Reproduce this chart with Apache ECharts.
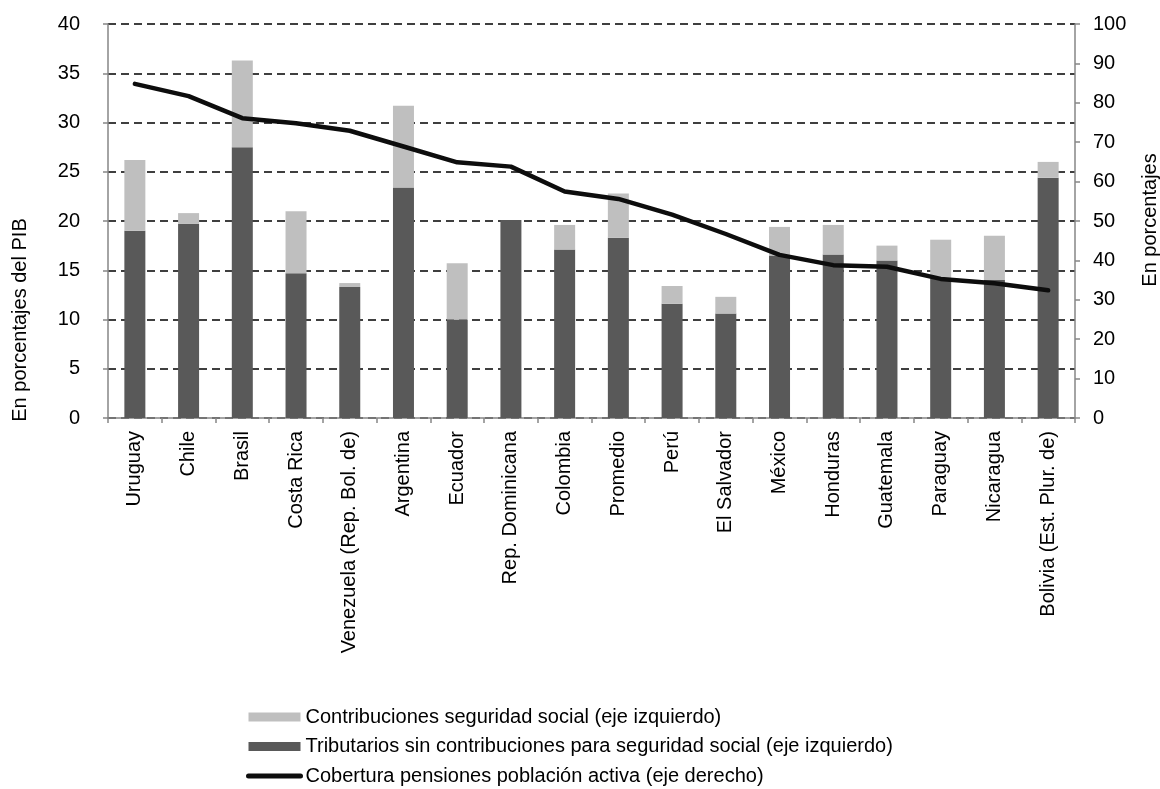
<!DOCTYPE html>
<html>
<head>
<meta charset="utf-8">
<script src="https://cdn.jsdelivr.net/npm/echarts@6/dist/echarts.min.js"></script>
<style>
  html, body { margin: 0; padding: 0; background: #ffffff; }
  #chart { width: 1160px; height: 789px; }
</style>
</head>
<body>
<div id="chart"></div>
<script>
// Countries, ordered by pension coverage
var categories = ['Uruguay', 'Chile', 'Brasil', 'Costa Rica', 'Venezuela (Rep. Bol. de)', 'Argentina', 'Ecuador',
  'Rep. Dominicana', 'Colombia', 'Promedio', 'Perú', 'El Salvador', 'México', 'Honduras', 'Guatemala',
  'Paraguay', 'Nicaragua', 'Bolivia (Est. Plur. de)'];

// Tax revenue excluding social security contributions (% of GDP)
var tributarios = [19.0, 19.7, 27.5, 14.7, 13.3, 23.4, 10.0, 20.1, 17.1, 18.3, 11.6, 10.6, 16.5, 16.6, 16.0, 14.2, 14.0, 24.4];

// Social security contributions (% of GDP)
var contribuciones = [7.2, 1.1, 8.8, 6.3, 0.4, 8.3, 5.7, 0.0, 2.5, 4.5, 1.8, 1.7, 2.9, 3.0, 1.5, 3.9, 4.5, 1.6];

// Pension coverage of the active population (%)
var cobertura = [84.8, 81.7, 76.1, 74.8, 72.9, 68.9, 64.9, 63.8, 57.5, 55.6, 51.6, 46.7, 41.4, 38.8, 38.4, 35.3, 34.2, 32.4];

var seriesNames = [
  'Contribuciones seguridad social (eje izquierdo)',
  'Tributarios sin contribuciones para seguridad social (eje izquierdo)',
  'Cobertura pensiones población activa (eje derecho)'
];

var FONT = '"Liberation Sans", Arial, sans-serif';
var FS = 20;
var AXIS_GREY = '#868686';

var chart = echarts.init(document.getElementById('chart'), null, { renderer: 'canvas' });

chart.setOption({
  animation: false,
  backgroundColor: '#ffffff',
  textStyle: { fontFamily: FONT, color: '#000000' },
  grid: { left: 108, right: 85, top: 24, bottom: 371, containLabel: false },
  legend: {
    orient: 'vertical',
    left: 246,
    top: 707,
    height: 110,
    padding: 0,
    itemWidth: 52,
    itemHeight: 9,
    itemGap: 9.5,
    textStyle: { fontFamily: FONT, fontSize: FS, color: '#000000' },
    data: [
      { name: seriesNames[0], icon: 'rect' },
      { name: seriesNames[1], icon: 'rect' },
      {
        name: seriesNames[2],
        itemStyle: { opacity: 0 },
        lineStyle: { color: '#0d0d0d', width: 5, cap: 'round' }
      }
    ]
  },
  xAxis: {
    type: 'category',
    data: categories,
    boundaryGap: true,
    axisLine: { lineStyle: { color: AXIS_GREY, width: 1.5 } },
    axisTick: { show: true, interval: 0, length: 5, lineStyle: { color: AXIS_GREY, width: 1.5 } },
    axisLabel: { interval: 0, rotate: 90, margin: 13, fontFamily: FONT, fontSize: FS, color: '#000000' }
  },
  yAxis: [
    {
      type: 'value',
      min: 0, max: 40, interval: 5,
      position: 'left',
      axisLine: { show: true, lineStyle: { color: AXIS_GREY, width: 1.5 } },
      axisTick: { show: true, length: 5, lineStyle: { color: AXIS_GREY, width: 1.5 } },
      axisLabel: { margin: 28, fontFamily: FONT, fontSize: FS, color: '#000000' },
      splitLine: { show: true, lineStyle: { color: '#000000', width: 1.5, type: [8, 5] } }
    },
    {
      type: 'value',
      min: 0, max: 100, interval: 10,
      position: 'right',
      axisLine: { show: true, lineStyle: { color: AXIS_GREY, width: 1.5 } },
      axisTick: { show: true, length: 5, lineStyle: { color: AXIS_GREY, width: 1.5 } },
      axisLabel: { margin: 18, fontFamily: FONT, fontSize: FS, color: '#000000' },
      splitLine: { show: false }
    }
  ],
  graphic: [
    {
      type: 'text',
      x: 20, y: 320,
      rotation: Math.PI / 2,
      style: { text: 'En porcentajes del PIB', fontFamily: FONT, fontSize: FS, fill: '#000000', align: 'center', verticalAlign: 'middle' }
    },
    {
      type: 'text',
      x: 1150, y: 220,
      rotation: Math.PI / 2,
      style: { text: 'En porcentajes', fontFamily: FONT, fontSize: FS, fill: '#000000', align: 'center', verticalAlign: 'middle' }
    }
  ],
  series: [
    {
      name: seriesNames[1],
      type: 'bar',
      stack: 'tax',
      yAxisIndex: 0,
      barWidth: 21,
      itemStyle: { color: '#595959' },
      data: tributarios
    },
    {
      name: seriesNames[0],
      type: 'bar',
      stack: 'tax',
      yAxisIndex: 0,
      barWidth: 21,
      itemStyle: { color: '#bfbfbf' },
      data: contribuciones
    },
    {
      name: seriesNames[2],
      type: 'line',
      yAxisIndex: 1,
      symbol: 'none',
      smooth: false,
      lineStyle: { color: '#0d0d0d', width: 4.5, cap: 'round', join: 'round' },
      itemStyle: { color: '#0d0d0d' },
      data: cobertura
    }
  ]
});
</script>
</body>
</html>
